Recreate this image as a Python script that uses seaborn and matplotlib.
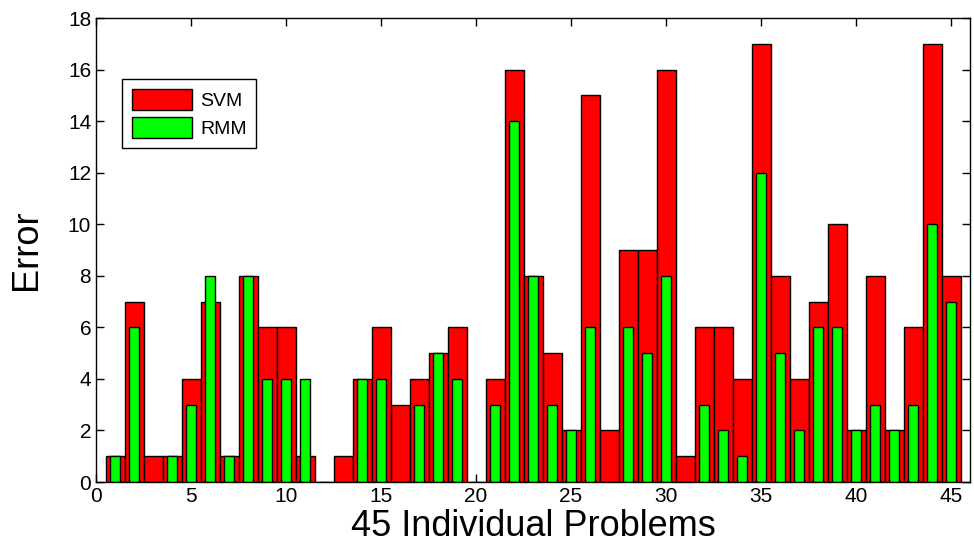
import matplotlib
matplotlib.use("Agg")
import matplotlib.pyplot as plt
import seaborn as sns
import pandas as pd

# 每个问题的误差
problems = list(range(1, 46))
svm_error = [1, 7, 1, 1, 4, 7, 1, 8, 6, 6,
             1, 0, 1, 4, 6, 3, 4, 5, 6, 0,
             4, 16, 8, 5, 2, 15, 2, 9, 9, 16,
             1, 6, 6, 4, 17, 8, 4, 7, 10, 2,
             8, 2, 6, 17, 8]
rmm_error = [1, 6, 0, 1, 3, 8, 1, 8, 4, 4,
             4, 0, 0, 4, 4, 0, 3, 5, 4, 0,
             3, 14, 8, 3, 2, 6, 0, 6, 5, 8,
             0, 3, 2, 1, 12, 5, 2, 6, 6, 2,
             3, 2, 3, 10, 7]
x_ticks = [0, 5, 10, 15, 20, 25, 30, 35, 40, 45]
y_ticks = [0, 2, 4, 6, 8, 10, 12, 14, 16, 18]

df = pd.DataFrame({"problem": problems, "SVM": svm_error, "RMM": rmm_error})

sns.set_style("ticks")
plt.rcParams['font.family'] = ['Liberation Sans', 'DejaVu Sans']
plt.rcParams['text.color'] = 'black'
plt.rcParams['axes.labelcolor'] = 'black'

fig, ax = plt.subplots(figsize=(9.74, 5.44), dpi=100)
fig.subplots_adjust(left=96 / 974, right=970 / 974, top=1 - 18 / 544, bottom=1 - 482 / 544)

sns.barplot(data=df, x="problem", y="SVM", native_scale=True, width=1.0,
            color="#ff0000", saturation=1, edgecolor="black", linewidth=1,
            errorbar=None, label="SVM", ax=ax)
sns.barplot(data=df, x="problem", y="RMM", native_scale=True, width=0.5,
            color="#00ff00", saturation=1, edgecolor="black", linewidth=1,
            errorbar=None, label="RMM", ax=ax)

ax.set_xlim(0, 46)
ax.set_ylim(0, 18)
ax.set_xticks(x_ticks)
ax.set_yticks(y_ticks)
ax.tick_params(direction="in", length=5.5, width=1, labelsize=15,
               top=True, right=True, colors="black")
for s in ax.spines.values():
    s.set_visible(True)
    s.set_color("black")
    s.set_linewidth(1)

ax.set_xlabel("45 Individual Problems", fontsize=26, labelpad=2)
ax.set_ylabel("Error", fontsize=26, labelpad=17)

leg = ax.legend(loc="upper left", bbox_to_anchor=(0.03, 0.868), borderaxespad=0,
                fontsize=14, handlelength=3.1, handleheight=1.3, fancybox=False,
                framealpha=1, edgecolor="black", borderpad=0.5, labelspacing=0.35,
                handletextpad=0.4)
leg.get_frame().set_linewidth(1)

plt.savefig("out.png", dpi=100)
